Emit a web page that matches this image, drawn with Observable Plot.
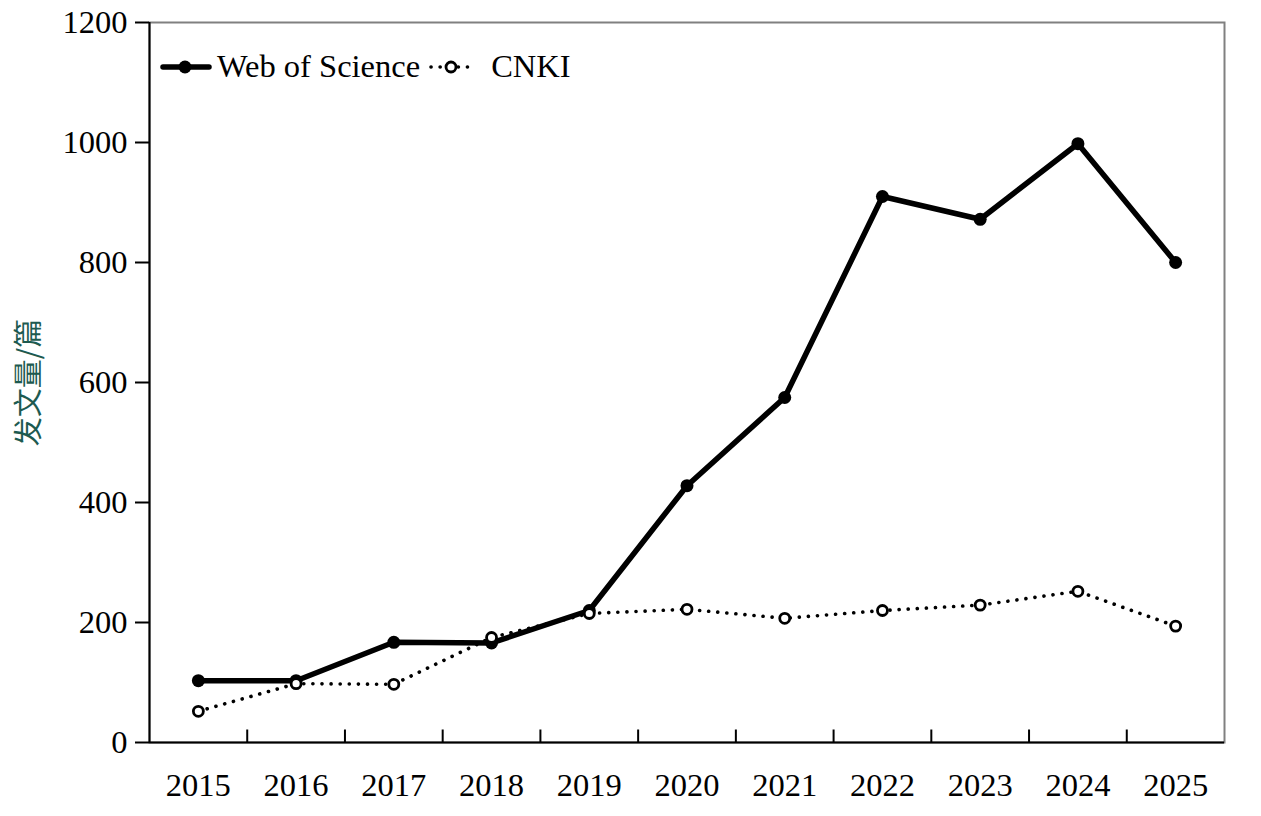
<!DOCTYPE html>
<html>
<head>
<meta charset="utf-8">
<script src="https://cdn.jsdelivr.net/npm/d3@7"></script>
<script src="https://cdn.jsdelivr.net/npm/@observablehq/plot@0.6"></script>
<style>
  html, body { margin: 0; padding: 0; background: #fff; }
  #wrap { position: relative; width: 1261px; height: 816px; }
  #legend { position: absolute; left: 160px; top: 48px; display: flex; align-items: center;
    font-family: "Liberation Serif", "Times New Roman", serif; font-size: 32.5px; color: #000; }
  #legend svg { display: block; }
</style>
</head>
<body>
<div id="wrap"></div>
<script>
const years = [2015, 2016, 2017, 2018, 2019, 2020, 2021, 2022, 2023, 2024, 2025];
const wosValues = [103, 103, 167, 166, 220, 428, 575, 910, 872, 998, 800];
const cnkiValues = [52, 98, 97, 175, 215, 222, 207, 220, 229, 252, 194];
const yTicks = [0, 200, 400, 600, 800, 1000, 1200];
const seriesNames = ["Web of Science", "CNKI"];
const yLabel = "发文量/篇";

const wos = years.map((y, i) => ({year: y, value: wosValues[i]}));
const cnki = years.map((y, i) => ({year: y, value: cnkiValues[i]}));
const boundaries = years.slice(0, -1).map(y => y + 0.5);

const upTick = {draw(ctx) { ctx.moveTo(0, 0); ctx.lineTo(0, -13); }};

const chart = Plot.plot({
  width: 1261,
  height: 816,
  marginLeft: 149,
  marginRight: 37,
  marginTop: 22,
  marginBottom: 74,
  style: {fontFamily: "'Liberation Serif', 'Times New Roman', 'Noto Sans CJK SC', serif", fontSize: "32.5px", color: "#000", background: "#fff"},
  x: {domain: [years[0] - 0.5, years[years.length - 1] + 0.5]},
  y: {domain: [0, 1200]},
  marks: [
    Plot.frame({stroke: "#808080", strokeWidth: 2}),
    Plot.axisY({ticks: yTicks, tickSize: 14, tickPadding: 8, tickFormat: d => String(d), label: null, strokeWidth: 2}),
    Plot.axisY({ticks: [], label: yLabel, labelAnchor: "center", labelArrow: "none", labelOffset: 131,
      color: "#1d5a50", fontFamily: "'Noto Sans CJK SC', sans-serif", fontSize: 29}),
    Plot.axisX({ticks: years, tickSize: 0, tickPadding: 30, tickFormat: d => String(d), label: null}),
    Plot.ruleX([years[0] - 0.5], {stroke: "#000", strokeWidth: 2}),
    Plot.ruleY([0], {stroke: "#000", strokeWidth: 2}),
    Plot.dot(boundaries, {x: d => d, y: () => 0, symbol: upTick, stroke: "#000", strokeWidth: 2, fill: "none"}),
    Plot.line(cnki, {x: "year", y: "value", stroke: "#000", strokeWidth: 3.6, strokeDasharray: "0.1,9", strokeLinecap: "round"}),
    Plot.line(wos, {x: "year", y: "value", stroke: "#000", strokeWidth: 5.5, strokeLinejoin: "round"}),
    Plot.dot(wos, {x: "year", y: "value", r: 6.5, fill: "#000", stroke: "none"}),
    Plot.dot(cnki, {x: "year", y: "value", r: 5, fill: "#fff", stroke: "#000", strokeWidth: 2.8})
  ]
});

const wrap = document.getElementById("wrap");
wrap.appendChild(chart);

const legend = document.createElement("div");
legend.id = "legend";
legend.innerHTML = `
  <svg width="52" height="20"><line x1="3" y1="10" x2="49" y2="10" stroke="#000" stroke-width="5.5" stroke-linecap="round"/><circle cx="25" cy="10" r="6.5" fill="#000"/></svg>
  <span style="margin-left:5px">${seriesNames[0]}</span>
  <svg width="46" height="20" style="margin-left:8px"><line x1="3" y1="10" x2="43" y2="10" stroke="#000" stroke-width="3.6" stroke-dasharray="0.1,9" stroke-linecap="round"/><circle cx="23" cy="10" r="5" fill="#fff" stroke="#000" stroke-width="2.8"/></svg>
  <span style="margin-left:17px">${seriesNames[1]}</span>`;
wrap.appendChild(legend);
</script>
</body>
</html>
